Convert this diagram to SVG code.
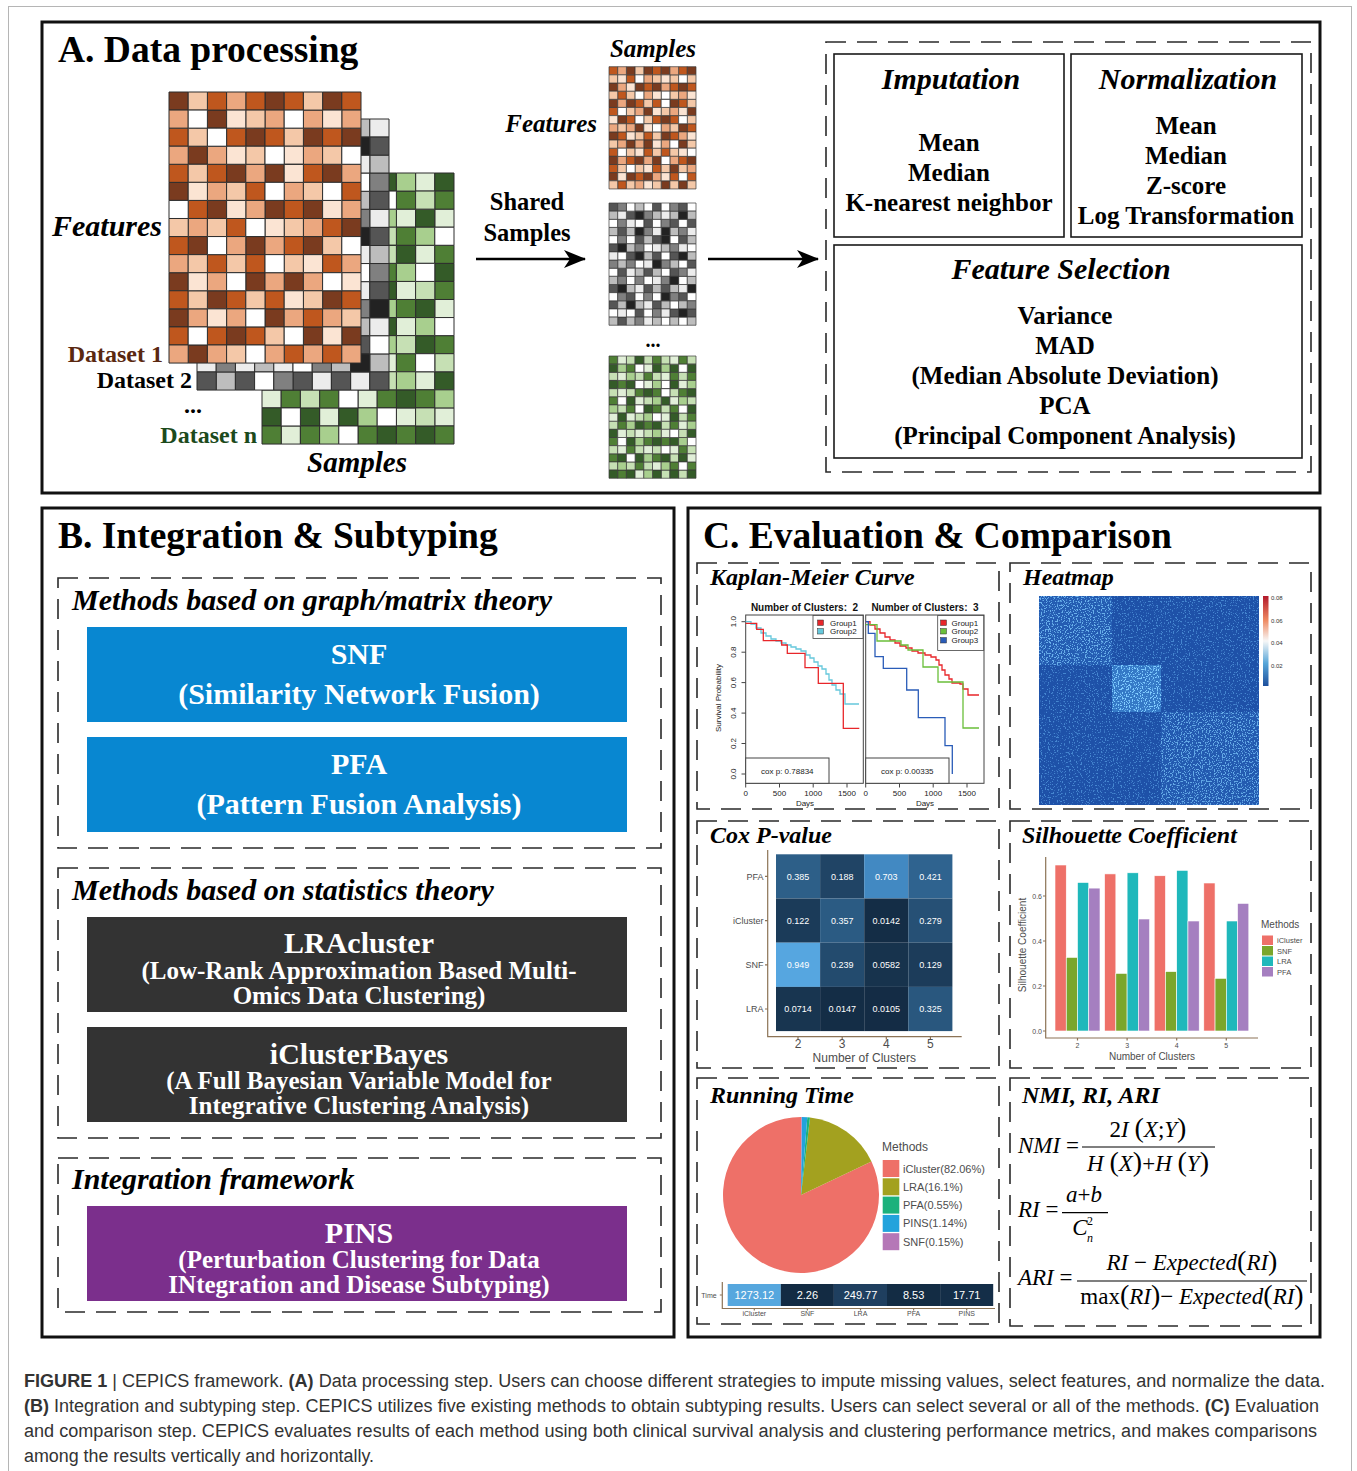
<svg xmlns="http://www.w3.org/2000/svg" width="1357" height="1471" viewBox="0 0 1357 1471" style="font-family:'Liberation Serif','Times New Roman',serif">
<style>
.b{font-weight:bold}
.i{font-style:italic}
.n{font-style:normal}
.panel{fill:none;stroke:#111;stroke-width:3}
.dash{fill:none;stroke:#2a2a2a;stroke-width:1.6;stroke-dasharray:20 11}
.box{fill:none;stroke:#1a1a1a;stroke-width:1.6}
.title{font-size:37.5px;font-weight:bold}
.sub{font-size:30px;font-weight:bold;font-style:italic}
.st{font-size:30px;font-weight:bold;font-style:italic;text-anchor:middle}
.item{font-size:25px;font-weight:bold;text-anchor:middle}
.mt{font-size:30px;font-weight:bold;fill:#fff;text-anchor:middle}
.md{font-size:25px;font-weight:bold;fill:#fff;text-anchor:middle}
.ct{font-size:24px;font-weight:bold;font-style:italic}
.sans{font-family:"Liberation Sans",Arial,sans-serif}
.ax{font-family:"Liberation Sans",Arial,sans-serif;fill:#4d4d4d}
.km{font-family:"Liberation Sans",Arial,sans-serif;font-size:8px;fill:#222}
.kt{font-family:"Liberation Sans",Arial,sans-serif;font-size:10px;font-weight:bold;fill:#111;text-anchor:middle}
.cell{font-family:"Liberation Sans",Arial,sans-serif;font-size:9px;fill:#fff;text-anchor:middle}
.m{font-size:23px}
.cap{font-family:"Liberation Sans",Arial,sans-serif;font-size:18px;fill:#333}
.axl{fill:none;stroke:#8c7356;stroke-width:1.2}
</style>
<defs>
<path id="p0" vector-effect="non-scaling-stroke" d="M0 0h1v1h-1zM5 0h1v1h-1zM8 0h1v1h-1zM2 1h1v1h-1zM4 2h1v1h-1zM7 2h1v1h-1zM9 2h1v1h-1zM1 3h1v1h-1zM3 4h1v1h-1zM5 4h1v1h-1zM8 4h1v1h-1zM0 5h1v1h-1zM2 6h1v1h-1zM5 6h1v1h-1zM7 6h1v1h-1zM9 7h1v1h-1zM1 8h1v1h-1zM4 8h1v1h-1zM7 8h1v1h-1zM0 10h1v1h-1zM4 10h1v1h-1zM6 10h1v1h-1zM2 11h1v1h-1zM8 11h1v1h-1zM0 12h1v1h-1zM5 12h1v1h-1zM3 13h1v1h-1zM7 13h1v1h-1zM9 13h1v1h-1zM1 14h1v1h-1z"/>
<path id="p1" vector-effect="non-scaling-stroke" d="M2 0h1v1h-1zM4 0h1v1h-1zM6 0h1v1h-1zM9 0h1v1h-1zM0 2h1v1h-1zM3 2h1v1h-1zM5 2h1v1h-1zM8 2h1v1h-1zM0 4h1v1h-1zM2 4h1v1h-1zM7 4h1v1h-1zM4 5h1v1h-1zM9 5h1v1h-1zM1 6h1v1h-1zM6 6h1v1h-1zM3 7h1v1h-1zM8 7h1v1h-1zM0 8h1v1h-1zM6 8h1v1h-1zM2 9h1v1h-1zM4 9h1v1h-1zM8 9h1v1h-1zM0 11h1v1h-1zM3 11h1v1h-1zM5 11h1v1h-1zM9 11h1v1h-1zM7 12h1v1h-1zM0 13h1v1h-1zM2 13h1v1h-1zM4 13h1v1h-1zM6 14h1v1h-1zM8 14h1v1h-1z"/>
<path id="p2" vector-effect="non-scaling-stroke" d="M3 0h1v1h-1zM0 1h1v1h-1zM5 1h1v1h-1zM7 1h1v1h-1zM9 1h1v1h-1zM0 3h1v1h-1zM2 3h1v1h-1zM7 3h1v1h-1zM4 4h1v1h-1zM9 4h1v1h-1zM2 5h1v1h-1zM6 5h1v1h-1zM4 6h1v1h-1zM9 6h1v1h-1zM1 7h1v1h-1zM7 7h1v1h-1zM3 8h1v1h-1zM5 8h1v1h-1zM0 9h1v1h-1zM9 9h1v1h-1zM2 10h1v1h-1zM5 10h1v1h-1zM7 10h1v1h-1zM1 12h1v1h-1zM3 12h1v1h-1zM6 12h1v1h-1zM8 12h1v1h-1zM0 14h1v1h-1zM2 14h1v1h-1zM5 14h1v1h-1zM7 14h1v1h-1zM9 14h1v1h-1z"/>
<path id="p3" vector-effect="non-scaling-stroke" d="M1 0h1v1h-1zM7 0h1v1h-1zM4 1h1v1h-1zM1 2h1v1h-1zM6 2h1v1h-1zM4 3h1v1h-1zM8 3h1v1h-1zM1 4h1v1h-1zM3 5h1v1h-1zM7 5h1v1h-1zM0 7h1v1h-1zM2 7h1v1h-1zM6 7h1v1h-1zM8 8h1v1h-1zM1 9h1v1h-1zM3 9h1v1h-1zM6 9h1v1h-1zM1 11h1v1h-1zM4 11h1v1h-1zM7 11h1v1h-1zM9 12h1v1h-1zM5 13h1v1h-1zM3 14h1v1h-1z"/>
<path id="p4" vector-effect="non-scaling-stroke" d="M3 1h1v1h-1zM8 1h1v1h-1zM3 3h1v1h-1zM6 3h1v1h-1zM6 4h1v1h-1zM1 5h1v1h-1zM3 6h1v1h-1zM8 6h1v1h-1zM5 7h1v1h-1zM7 9h1v1h-1zM1 10h1v1h-1zM9 10h1v1h-1zM6 11h1v1h-1zM2 12h1v1h-1zM8 13h1v1h-1z"/>
<path id="p5" vector-effect="non-scaling-stroke" d="M1 1h1v1h-1zM6 1h1v1h-1zM2 2h1v1h-1zM5 3h1v1h-1zM9 3h1v1h-1zM5 5h1v1h-1zM8 5h1v1h-1zM0 6h1v1h-1zM4 7h1v1h-1zM2 8h1v1h-1zM9 8h1v1h-1zM5 9h1v1h-1zM3 10h1v1h-1zM8 10h1v1h-1zM4 12h1v1h-1zM1 13h1v1h-1zM6 13h1v1h-1zM4 14h1v1h-1z"/>
<marker id="ah" viewBox="0 0 22 18" refX="21" refY="9" markerWidth="22" markerHeight="18" markerUnits="userSpaceOnUse" orient="auto">
<path d="M0 0L22 9L0 18L6 9z" fill="#000"/>
</marker>
<filter id="nz" x="0" y="0" width="1" height="1" color-interpolation-filters="sRGB">
<feTurbulence type="fractalNoise" baseFrequency="0.75" numOctaves="1" seed="4"/>
<feColorMatrix type="matrix" values="0 0 0 0 0.4 0 0 0 0 0.7 0 0 0 0 0.95 14 0 0 0 -8.2"/>
<feComposite in2="SourceGraphic" operator="in"/>
</filter>
<filter id="nz2" x="0" y="0" width="1" height="1" color-interpolation-filters="sRGB">
<feTurbulence type="fractalNoise" baseFrequency="0.75" numOctaves="1" seed="9"/>
<feColorMatrix type="matrix" values="0 0 0 0 0.5 0 0 0 0 0.8 0 0 0 0 1 14 0 0 0 -7.6"/>
<feComposite in2="SourceGraphic" operator="in"/>
</filter>
<linearGradient id="cb" x1="0" y1="0" x2="0" y2="1">
<stop offset="0" stop-color="#b2182b"/>
<stop offset="0.27" stop-color="#ef8a62"/>
<stop offset="0.5" stop-color="#f7f7f7"/>
<stop offset="0.75" stop-color="#56a5d8"/>
<stop offset="1" stop-color="#1d4f9c"/>
</linearGradient>
</defs>

<rect x="8.5" y="6.5" width="1343" height="1470" fill="#fff" stroke="#b5b5b5" stroke-width="1"/>

<!-- Panel A -->
<g id="panelA">
<rect class="panel" x="42" y="22" width="1278" height="471"/>
<text class="title" x="58" y="62">A. Data processing</text>
</g>

<g id="datasets">
<g id="dsn" transform="translate(262,173) scale(19.2,18.07)" stroke="#2d2d2d" stroke-width="1">
<use href="#p0" fill="#e1efd8"/><use href="#p1" fill="#345b28"/><use href="#p2" fill="#4f7f35"/><use href="#p3" fill="#a8cf8e"/><use href="#p4" fill="#c6e0b4"/><use href="#p5" fill="#ffffff"/>
</g>
<g id="ds2" transform="translate(197,119) scale(19.2,18.07)" stroke="#2d2d2d" stroke-width="1">
<use href="#p0" fill="#bdbdbd"/><use href="#p1" fill="#ececec"/><use href="#p2" fill="#555555"/><use href="#p3" fill="#ffffff"/><use href="#p4" fill="#222222"/><use href="#p5" fill="#808080"/>
</g>
<g id="ds1" transform="translate(169,92) scale(19.2,18.07)" stroke="#2d2d2d" stroke-width="1">
<use href="#p0" fill="#7a3b1f"/><use href="#p1" fill="#bf571e"/><use href="#p2" fill="#eba77f"/><use href="#p3" fill="#f4c8a8"/><use href="#p4" fill="#fbe4d3"/><use href="#p5" fill="#ffffff"/>
</g>
<text class="sub" x="52" y="236">Features</text>
<text class="b" x="163" y="362" text-anchor="end" font-size="24" fill="#5a2810">Dataset 1</text>
<text class="b" x="192" y="388" text-anchor="end" font-size="24">Dataset 2</text>
<text class="b" x="193" y="413" text-anchor="middle" font-size="24">...</text>
<text class="b" x="257" y="443" text-anchor="end" font-size="24" fill="#1c4a1c">Dataset n</text>
<text class="sub" x="357" y="472" text-anchor="middle" style="font-size:29px">Samples</text>
</g>

<g id="shared">
<text class="b" x="527" y="210" text-anchor="middle" font-size="24.5">Shared</text>
<text class="b" x="527" y="241" text-anchor="middle" font-size="24.5">Samples</text>
</g>

<g id="sharedmats">
<text class="sub" x="653" y="57" text-anchor="middle" style="font-size:25px">Samples</text>
<text class="sub" x="597" y="132" text-anchor="end" style="font-size:25px">Features</text>
<g transform="translate(609,66.7) scale(8.7,8.15)" stroke="#3a3a3a" stroke-width="0.7">
<use href="#p0" fill="#bf571e"/><use href="#p1" fill="#7a3b1f"/><use href="#p2" fill="#f4c8a8"/><use href="#p3" fill="#eba77f"/><use href="#p4" fill="#ffffff"/><use href="#p5" fill="#fbe4d3"/>
</g>
<g transform="translate(609,203) scale(8.7,8.15)" stroke="#3a3a3a" stroke-width="0.7">
<use href="#p0" fill="#555555"/><use href="#p1" fill="#ffffff"/><use href="#p2" fill="#bdbdbd"/><use href="#p3" fill="#808080"/><use href="#p4" fill="#222222"/><use href="#p5" fill="#ececec"/>
</g>
<text class="b" x="653" y="347" text-anchor="middle" font-size="20">...</text>
<g transform="translate(609,356) scale(8.7,8.15)" stroke="#3a3a3a" stroke-width="0.7">
<use href="#p0" fill="#4f7f35"/><use href="#p1" fill="#c6e0b4"/><use href="#p2" fill="#345b28"/><use href="#p3" fill="#e1efd8"/><use href="#p4" fill="#ffffff"/><use href="#p5" fill="#a8cf8e"/>
</g>
</g>

<g id="preproc">
<rect class="dash" x="826" y="42" width="485" height="430"/>
</g>
<g id="imputation">
<rect class="box" x="834" y="54" width="230" height="183"/>
<text class="st" x="951" y="89">Imputation</text>
<text class="item" x="949" y="151">Mean</text>
<text class="item" x="949" y="181">Median</text>
<text class="item" x="949" y="211">K-nearest neighbor</text>
</g>
<g id="normalization">
<rect class="box" x="1071" y="54" width="231" height="183"/>
<text class="st" x="1188" y="89">Normalization</text>
<text class="item" x="1186" y="134">Mean</text>
<text class="item" x="1186" y="164">Median</text>
<text class="item" x="1186" y="194">Z-score</text>
<text class="item" x="1186" y="224">Log Transformation</text>
</g>
<g id="featsel">
<rect class="box" x="834" y="245" width="468" height="213"/>
<text class="st" x="1061" y="279">Feature Selection</text>
<text class="item" x="1065" y="324">Variance</text>
<text class="item" x="1065" y="354">MAD</text>
<text class="item" x="1065" y="384">(Median Absolute Deviation)</text>
<text class="item" x="1065" y="414">PCA</text>
<text class="item" x="1065" y="444">(Principal Component Analysis)</text>
</g>

<g id="connectors">
<line x1="476" y1="259" x2="585" y2="259" stroke="#000" stroke-width="2.5" marker-end="url(#ah)"/>
<line x1="708" y1="259" x2="818" y2="259" stroke="#000" stroke-width="2.5" marker-end="url(#ah)"/>
</g>

<!-- Panel B -->
<g id="panelB">
<rect class="panel" x="42" y="508" width="632" height="829"/>
<text class="title" x="58" y="548">B. Integration &amp; Subtyping</text>
<rect class="dash" x="58" y="578" width="603" height="270"/>
<text class="sub" x="72" y="610">Methods based on graph/matrix theory</text>
<rect class="dash" x="58" y="868" width="603" height="270"/>
<text class="sub" x="72" y="900">Methods based on statistics theory</text>
<rect class="dash" x="58" y="1158" width="603" height="154"/>
<text class="sub" x="72" y="1189">Integration framework</text>
</g>
<g id="snf">
<rect x="87" y="627" width="540" height="95" fill="#0887d1"/>
<text class="mt" x="359" y="664">SNF</text>
<text class="mt" x="359" y="704">(Similarity Network Fusion)</text>
</g>
<g id="pfa">
<rect x="87" y="737" width="540" height="95" fill="#0887d1"/>
<text class="mt" x="359" y="774">PFA</text>
<text class="mt" x="359" y="814">(Pattern Fusion Analysis)</text>
</g>
<g id="lra">
<rect x="87" y="917" width="540" height="95" fill="#333333"/>
<text class="mt" x="359" y="953">LRAcluster</text>
<text class="md" x="359" y="979">(Low-Rank Approximation Based Multi-</text>
<text class="md" x="359" y="1004">Omics Data Clustering)</text>
</g>
<g id="icluster">
<rect x="87" y="1027" width="540" height="95" fill="#333333"/>
<text class="mt" x="359" y="1064">iClusterBayes</text>
<text class="md" x="359" y="1089">(A Full Bayesian Variable Model for</text>
<text class="md" x="359" y="1114">Integrative Clustering Analysis)</text>
</g>
<g id="pins">
<rect x="87" y="1206" width="540" height="95" fill="#7b2f8c"/>
<text class="mt" x="359" y="1243">PINS</text>
<text class="md" x="359" y="1268">(Perturbation Clustering for Data</text>
<text class="md" x="359" y="1293">INtegration and Disease Subtyping)</text>
</g>

<!-- Panel C -->
<g id="panelC">
<rect class="panel" x="688" y="508" width="632" height="829"/>
<text class="title" x="703" y="548">C. Evaluation &amp; Comparison</text>
<rect class="dash" x="697" y="563" width="302" height="246"/>
<rect class="dash" x="1010" y="563" width="301" height="246"/>
<rect class="dash" x="697" y="821" width="302" height="247"/>
<rect class="dash" x="1010" y="821" width="301" height="247"/>
<rect class="dash" x="697" y="1078" width="302" height="246"/>
<rect class="dash" x="1010" y="1078" width="301" height="248"/>
</g>

<g id="km">
<text class="ct" x="710" y="585">Kaplan-Meier Curve</text>
<text class="kt" x="804.5" y="611">Number of Clusters:&#160; 2</text>
<text class="kt" x="925" y="611">Number of Clusters:&#160; 3</text>
<rect x="745.7" y="615" width="117.6" height="168.3" fill="none" stroke="#444"/>
<rect x="865.7" y="615" width="118.3" height="168.3" fill="none" stroke="#444"/>
<path d="M741.5 774H745.7M741.5 743.5H745.7M741.5 713.1H745.7M741.5 682.6H745.7M741.5 652.2H745.7M741.5 621.7H745.7M745.7 783.3V787.5M779.5 783.3V787.5M813.2 783.3V787.5M847 783.3V787.5M865.7 783.3V787.5M899.5 783.3V787.5M933.2 783.3V787.5M967 783.3V787.5" stroke="#444"/>
<g class="km" text-anchor="middle">
<text transform="translate(736,774) rotate(-90)">0.0</text>
<text transform="translate(736,743.5) rotate(-90)">0.2</text>
<text transform="translate(736,713.1) rotate(-90)">0.4</text>
<text transform="translate(736,682.6) rotate(-90)">0.6</text>
<text transform="translate(736,652.2) rotate(-90)">0.8</text>
<text transform="translate(736,621.7) rotate(-90)">1.0</text>
<text transform="translate(721,698) rotate(-90)">Survival Probability</text>
<text x="745.7" y="796">0</text><text x="779.5" y="796">500</text><text x="813.2" y="796">1000</text><text x="847" y="796">1500</text>
<text x="865.7" y="796">0</text><text x="899.5" y="796">500</text><text x="933.2" y="796">1000</text><text x="967" y="796">1500</text>
<text x="805" y="806">Days</text><text x="925" y="806">Days</text>
</g>
<rect x="745.7" y="758" width="83.3" height="25.3" fill="#fff" stroke="#444"/>
<text class="km" x="787.3" y="773.5" text-anchor="middle">cox p: 0.78834</text>
<rect x="865.7" y="758" width="83.3" height="25.3" fill="#fff" stroke="#444"/>
<text class="km" x="907.3" y="773.5" text-anchor="middle">cox p: 0.00335</text>
<g fill="none" stroke-width="1.3">
<path stroke="#66c8dc" d="M745.7 621.7H751V624H756V628H761V633H766V636H771V639H776V641H781V643H786V645H791V647H796V649H801V651H806V655H810V658H814V662H818V666H822V669H826V674H829V680H832V685H836V690H840V694H845V704H859"/>
<path stroke="#e8262a" d="M745.7 623.3H756.7V629.3H763.3V640.7H781.7V645H787.3V653.3H805V667.7H818.3V683.3H843.3V728.3H859.3"/>
<path stroke="#e8262a" d="M865.7 621.7H870V625H875V629H880V633H885V637H890V640H895V643H900V646H906V648H912V651H918V653H925V655H931V657H936V660H939V665H942V670H945V675H949V679H952V683H960V684H963V689H968V695H979"/>
<path stroke="#6abf3a" d="M865.7 624.7H877V641H901V645H908V650H923V667H938V682H963V728H979"/>
<path stroke="#2a5cb8" d="M865.7 621.7H868.3V633.3H875V656.7H883.3V668.3H906.7V690H918.3V717.7H945V745.7H952.3V774"/>
</g>
<rect x="813" y="615.5" width="50" height="23" fill="#fff" stroke="#444" stroke-width="0.8"/>
<rect x="817.5" y="620" width="6" height="5.5" fill="#e8262a" stroke="#333" stroke-width="0.5"/>
<rect x="817.5" y="628.5" width="6" height="5.5" fill="#66c8dc" stroke="#333" stroke-width="0.5"/>
<text class="km" x="830" y="625.5">Group1</text>
<text class="km" x="830" y="634">Group2</text>
<rect x="937.7" y="615.5" width="46" height="35" fill="#fff" stroke="#444" stroke-width="0.8"/>
<rect x="940.5" y="620" width="6" height="5.5" fill="#e8262a" stroke="#333" stroke-width="0.5"/>
<rect x="940.5" y="628.5" width="6" height="5.5" fill="#6abf3a" stroke="#333" stroke-width="0.5"/>
<rect x="940.5" y="637.5" width="6" height="5.5" fill="#2a5cb8" stroke="#333" stroke-width="0.5"/>
<text class="km" x="951.5" y="625.5">Group1</text>
<text class="km" x="951.5" y="634">Group2</text>
<text class="km" x="951.5" y="643">Group3</text>
</g>

<g id="heatmap">
<text class="ct" x="1023" y="585">Heatmap</text>
<rect x="1039" y="596" width="220" height="209" fill="#1e51a8"/>
<rect x="1039" y="596" width="220" height="209" filter="url(#nz)" opacity="0.55"/>
<rect x="1039" y="596" width="73" height="69" fill="#245cb2"/>
<rect x="1039" y="596" width="73" height="69" filter="url(#nz2)" opacity="0.75"/>
<rect x="1161" y="712" width="98" height="93" fill="#235ab0"/>
<rect x="1161" y="712" width="98" height="93" filter="url(#nz2)" opacity="0.7"/>
<rect x="1112" y="665" width="49" height="47" fill="#3478c6"/>
<rect x="1112" y="665" width="49" height="47" filter="url(#nz2)" opacity="1"/>
<rect x="1263" y="596" width="5.5" height="90" fill="url(#cb)"/>
<g class="sans" font-size="6" fill="#333">
<text x="1271" y="600">0.08</text>
<text x="1271" y="622.5">0.06</text>
<text x="1271" y="645">0.04</text>
<text x="1271" y="667.5">0.02</text>
</g>
</g>

<g id="cox">
<text class="ct" x="710" y="843">Cox P-value</text>
<rect x="776" y="854.3" width="44.1" height="44.2" fill="#2d5f88"/>
<rect x="820.1" y="854.3" width="44.1" height="44.2" fill="#204465"/>
<rect x="864.2" y="854.3" width="44.1" height="44.2" fill="#4289c2"/>
<rect x="908.3" y="854.3" width="44.1" height="44.2" fill="#2f638f"/>
<rect x="776" y="898.5" width="44.1" height="44.2" fill="#1b3b59"/>
<rect x="820.1" y="898.5" width="44.1" height="44.2" fill="#2b5b83"/>
<rect x="864.2" y="898.5" width="44.1" height="44.2" fill="#142d46"/>
<rect x="908.3" y="898.5" width="44.1" height="44.2" fill="#265075"/>
<rect x="776" y="942.7" width="44.1" height="44.2" fill="#56a6e0"/>
<rect x="820.1" y="942.7" width="44.1" height="44.2" fill="#234b6e"/>
<rect x="864.2" y="942.7" width="44.1" height="44.2" fill="#17334d"/>
<rect x="908.3" y="942.7" width="44.1" height="44.2" fill="#1c3c5a"/>
<rect x="776" y="986.9" width="44.1" height="44.2" fill="#183550"/>
<rect x="820.1" y="986.9" width="44.1" height="44.2" fill="#142d46"/>
<rect x="864.2" y="986.9" width="44.1" height="44.2" fill="#142c45"/>
<rect x="908.3" y="986.9" width="44.1" height="44.2" fill="#29577e"/>
<g class="cell">
<text x="798" y="879.5">0.385</text><text x="842.2" y="879.5">0.188</text><text x="886.3" y="879.5">0.703</text><text x="930.4" y="879.5">0.421</text>
<text x="798" y="923.7">0.122</text><text x="842.2" y="923.7">0.357</text><text x="886.3" y="923.7">0.0142</text><text x="930.4" y="923.7">0.279</text>
<text x="798" y="967.9">0.949</text><text x="842.2" y="967.9">0.239</text><text x="886.3" y="967.9">0.0582</text><text x="930.4" y="967.9">0.129</text>
<text x="798" y="1012.1">0.0714</text><text x="842.2" y="1012.1">0.0147</text><text x="886.3" y="1012.1">0.0105</text><text x="930.4" y="1012.1">0.325</text>
</g>
<path class="axl" d="M767.7 850V1036.7H961.7M765 876.4H767.7M765 920.6H767.7M765 964.8H767.7M765 1009H767.7M798 1036.7V1039.5M842.2 1036.7V1039.5M886.3 1036.7V1039.5M930.4 1036.7V1039.5"/>
<g class="ax" font-size="9" text-anchor="end">
<text x="763.5" y="879.5">PFA</text><text x="763.5" y="923.7">iCluster</text><text x="763.5" y="967.9">SNF</text><text x="763.5" y="1012.1">LRA</text>
</g>
<g class="ax" font-size="12" text-anchor="middle">
<text x="798" y="1048">2</text><text x="842.2" y="1048">3</text><text x="886.3" y="1048">4</text><text x="930.4" y="1048">5</text>
<text x="864.3" y="1062">Number of Clusters</text>
</g>
</g>

<g id="silhouette">
<text class="ct" x="1022" y="843">Silhouette Coefficient</text>
<g stroke="#fff" stroke-width="0.6">
<rect x="1055" y="865" width="11.25" height="166" fill="#ee7068"/>
<rect x="1066.25" y="957.4" width="11.25" height="73.6" fill="#7aa62b"/>
<rect x="1077.5" y="882.5" width="11.25" height="148.5" fill="#1fb8bb"/>
<rect x="1088.75" y="888.1" width="11.25" height="142.9" fill="#a57fc0"/>
<rect x="1104.6" y="873.9" width="11.25" height="157.1" fill="#ee7068"/>
<rect x="1115.85" y="973.4" width="11.25" height="57.6" fill="#7aa62b"/>
<rect x="1127.1" y="872.8" width="11.25" height="158.2" fill="#1fb8bb"/>
<rect x="1138.35" y="919" width="11.25" height="112" fill="#a57fc0"/>
<rect x="1154.2" y="875.75" width="11.25" height="155.25" fill="#ee7068"/>
<rect x="1165.45" y="971.6" width="11.25" height="59.4" fill="#7aa62b"/>
<rect x="1176.7" y="870.35" width="11.25" height="160.65" fill="#1fb8bb"/>
<rect x="1187.95" y="921" width="11.25" height="110" fill="#a57fc0"/>
<rect x="1203.8" y="883" width="11.25" height="148" fill="#ee7068"/>
<rect x="1215.05" y="978.35" width="11.25" height="52.65" fill="#7aa62b"/>
<rect x="1226.3" y="921" width="11.25" height="110" fill="#1fb8bb"/>
<rect x="1237.55" y="903.4" width="11.25" height="127.6" fill="#a57fc0"/>
</g>
<path class="axl" d="M1045.7 857V1038H1258M1043 1031H1045.7M1043 986H1045.7M1043 941H1045.7M1043 896H1045.7M1077.5 1038V1040.5M1127.1 1038V1040.5M1176.7 1038V1040.5M1226.3 1038V1040.5"/>
<g class="ax" font-size="7">
<text x="1042" y="1033.5" text-anchor="end">0.0</text>
<text x="1042" y="988.5" text-anchor="end">0.2</text>
<text x="1042" y="943.5" text-anchor="end">0.4</text>
<text x="1042" y="898.5" text-anchor="end">0.6</text>
<text x="1077.5" y="1048" text-anchor="middle">2</text>
<text x="1127.1" y="1048" text-anchor="middle">3</text>
<text x="1176.7" y="1048" text-anchor="middle">4</text>
<text x="1226.3" y="1048" text-anchor="middle">5</text>
</g>
<text class="ax" x="1152" y="1060" font-size="10" text-anchor="middle">Number of Clusters</text>
<text class="ax" transform="translate(1026,945) rotate(-90)" font-size="10" text-anchor="middle">Silhouette Coefficient</text>
<text class="ax" x="1261" y="928" font-size="10">Methods</text>
<rect x="1262" y="935.5" width="11" height="9.5" fill="#ee7068"/>
<rect x="1262" y="946" width="11" height="9.5" fill="#7aa62b"/>
<rect x="1262" y="956.5" width="11" height="9.5" fill="#1fb8bb"/>
<rect x="1262" y="967" width="11" height="9.5" fill="#a57fc0"/>
<g class="ax" font-size="7.5">
<text x="1277" y="943">iCluster</text><text x="1277" y="953.5">SNF</text><text x="1277" y="964">LRA</text><text x="1277" y="974.5">PFA</text>
</g>
</g>

<g id="runtime">
<text class="ct" x="710" y="1103">Running Time</text>
<path d="M801 1195L871.45 1161.52A78 78 0 1 1 801 1117Z" fill="#ee7068"/>
<path d="M801 1195L810 1117.52A78 78 0 0 1 871.45 1161.52Z" fill="#a3a11f"/>
<path d="M801 1195L807.31 1117.26A78 78 0 0 1 810 1117.52Z" fill="#1bb17c"/>
<path d="M801 1195L801.73 1117A78 78 0 0 1 807.31 1117.26Z" fill="#22a3dc"/>
<path d="M801 1195L801 1117A78 78 0 0 1 801.73 1117Z" fill="#b577b7"/>
<text class="ax" x="882" y="1151" font-size="12" fill="#333">Methods</text>
<rect x="882.7" y="1160" width="16.6" height="17" fill="#ee7068"/>
<rect x="882.7" y="1178.3" width="16.6" height="17" fill="#a3a11f"/>
<rect x="882.7" y="1196.6" width="16.6" height="17" fill="#1bb17c"/>
<rect x="882.7" y="1214.9" width="16.6" height="17" fill="#22a3dc"/>
<rect x="882.7" y="1233.2" width="16.6" height="17" fill="#b577b7"/>
<g class="ax" font-size="11">
<text x="903" y="1172.5">iCluster(82.06%)</text>
<text x="903" y="1190.8">LRA(16.1%)</text>
<text x="903" y="1209.1">PFA(0.55%)</text>
<text x="903" y="1227.4">PINS(1.14%)</text>
<text x="903" y="1245.7">SNF(0.15%)</text>
</g>
<rect x="727.7" y="1284" width="53.1" height="22" fill="#56a7de"/>
<rect x="780.8" y="1284" width="53.1" height="22" fill="#132b43"/>
<rect x="833.9" y="1284" width="53.1" height="22" fill="#1f3f5f"/>
<rect x="887" y="1284" width="53.1" height="22" fill="#132c44"/>
<rect x="940.1" y="1284" width="53.1" height="22" fill="#142e48"/>
<g class="sans" font-size="11" fill="#fff" text-anchor="middle">
<text x="754.3" y="1299">1273.12</text><text x="807.4" y="1299">2.26</text><text x="860.5" y="1299">249.77</text><text x="913.6" y="1299">8.53</text><text x="966.7" y="1299">17.71</text>
</g>
<path class="axl" d="M722.3 1282V1308.5H995M719.8 1295H722.3M754.3 1308.5V1310.5M807.4 1308.5V1310.5M860.5 1308.5V1310.5M913.6 1308.5V1310.5M966.7 1308.5V1310.5"/>
<g class="ax" font-size="7" text-anchor="middle">
<text x="709" y="1297.5">Time</text>
<text x="754.3" y="1316">iCluster</text><text x="807.4" y="1316">SNF</text><text x="860.5" y="1316">LRA</text><text x="913.6" y="1316">PFA</text><text x="966.7" y="1316">PINS</text>
</g>
</g>

<g id="metrics">
<text class="ct" x="1022" y="1103">NMI, RI, ARI</text>
<text class="m" x="1018" y="1153"><tspan class="i">NMI</tspan> =</text>
<text class="m" x="1148" y="1137" text-anchor="middle">2<tspan class="i">I</tspan> <tspan font-size="28">(</tspan><tspan class="i">X</tspan>;<tspan class="i">Y</tspan><tspan font-size="28">)</tspan></text>
<line x1="1082" y1="1147" x2="1215" y2="1147" stroke="#000" stroke-width="1.2"/>
<text class="m" x="1148" y="1171" text-anchor="middle"><tspan class="i">H</tspan> <tspan font-size="28">(</tspan><tspan class="i">X</tspan><tspan font-size="28">)</tspan>+<tspan class="i">H</tspan> <tspan font-size="28">(</tspan><tspan class="i">Y</tspan><tspan font-size="28">)</tspan></text>
<text class="m" x="1018" y="1217"><tspan class="i">RI</tspan> =</text>
<text class="m i" x="1084" y="1202" text-anchor="middle">a<tspan class="n">+</tspan>b</text>
<line x1="1062" y1="1212.7" x2="1108" y2="1212.7" stroke="#000" stroke-width="1.2"/>
<text class="m i" x="1080" y="1235" text-anchor="middle">C</text>
<text x="1087" y="1225" font-size="12">2</text>
<text class="i" x="1087" y="1242" font-size="12">n</text>
<text class="m" x="1018" y="1285"><tspan class="i">ARI</tspan> =</text>
<text class="m" x="1192" y="1270" text-anchor="middle"><tspan class="i">RI</tspan> − <tspan class="i">Expected</tspan><tspan font-size="28">(</tspan><tspan class="i">RI</tspan><tspan font-size="28">)</tspan></text>
<line x1="1077" y1="1281" x2="1307" y2="1281" stroke="#000" stroke-width="1.2"/>
<text class="m" x="1192" y="1304" text-anchor="middle">max<tspan font-size="28">(</tspan><tspan class="i">RI</tspan><tspan font-size="28">)</tspan>− <tspan class="i">Expected</tspan><tspan font-size="28">(</tspan><tspan class="i">RI</tspan><tspan font-size="28">)</tspan></text>
</g>

<g id="caption" class="cap">
<text class="cap" x="24" y="1387" textLength="1301" lengthAdjust="spacingAndGlyphs"><tspan font-weight="bold">FIGURE 1</tspan> | CEPICS framework. <tspan font-weight="bold">(A)</tspan> Data processing step. Users can choose different strategies to impute missing values, select features, and normalize the data.</text>
<text class="cap" x="24" y="1412" textLength="1295" lengthAdjust="spacingAndGlyphs"><tspan font-weight="bold">(B)</tspan> Integration and subtyping step. CEPICS utilizes five existing methods to obtain subtyping results. Users can select several or all of the methods. <tspan font-weight="bold">(C)</tspan> Evaluation</text>
<text class="cap" x="24" y="1437" textLength="1293" lengthAdjust="spacingAndGlyphs">and comparison step. CEPICS evaluates results of each method using both clinical survival analysis and clustering performance metrics, and makes comparisons</text>
<text class="cap" x="24" y="1462" textLength="350" lengthAdjust="spacingAndGlyphs">among the results vertically and horizontally.</text>
</g>
</svg>
